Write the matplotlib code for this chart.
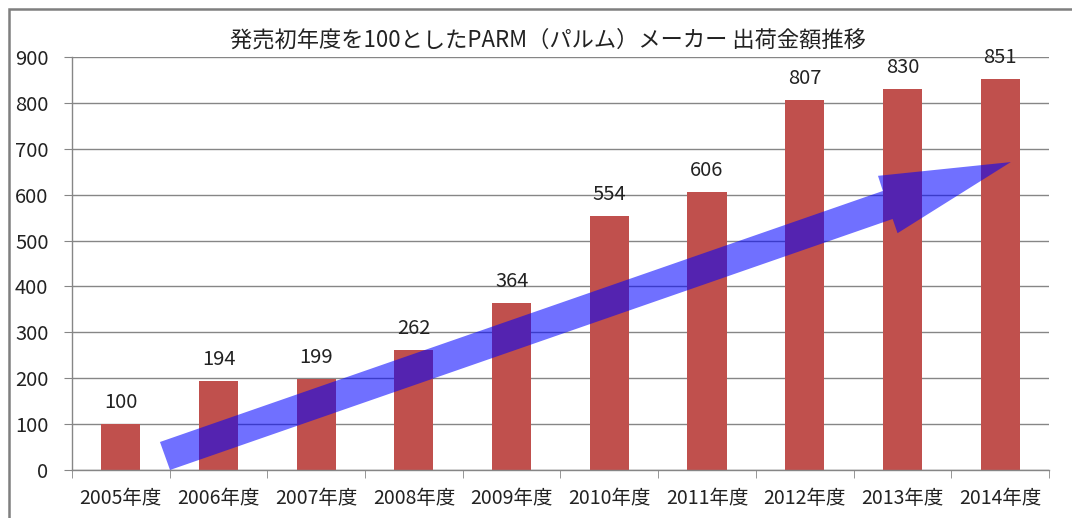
import matplotlib
matplotlib.use("Agg")
import matplotlib.pyplot as plt
from matplotlib.patches import Polygon, Rectangle

plt.rcParams['font.family'] = ['Noto Sans CJK JP', 'DejaVu Sans']

years = ["2005年度", "2006年度", "2007年度", "2008年度", "2009年度",
         "2010年度", "2011年度", "2012年度", "2013年度", "2014年度"]
values = [100, 194, 199, 262, 364, 554, 606, 807, 830, 851]
yticks = [0, 100, 200, 300, 400, 500, 600, 700, 800, 900]
title = "発売初年度を100としたPARM（パルム）メーカー 出荷金額推移"

fig = plt.figure(figsize=(10.72, 5.18), dpi=100)
ax = fig.add_axes([0.0672, 0.0927, 0.9113, 0.7973])

x = list(range(len(years)))
ax.bar(x, values, width=0.4, color='#C0504D', zorder=2)
for xi, v in zip(x, values):
    ax.annotate(str(v), (xi, v), xytext=(0, 8), textcoords='offset points',
                ha='center', va='bottom', fontsize=14.5, color='#222222')

ax.set_xlim(-0.5, len(years) - 0.5)
ax.set_ylim(0, 900)
ax.set_yticks(yticks)
ax.set_yticklabels([str(t) for t in yticks], fontsize=14.5)
ax.set_xticks(x)
ax.set_xticklabels(years, fontsize=14)
ax.set_xticks([i - 0.5 for i in range(len(years) + 1)], minor=True)
ax.tick_params(axis='x', which='major', length=0, pad=13, colors='#222222')
ax.tick_params(axis='x', which='minor', length=6, color='#868686')
ax.tick_params(axis='y', length=6, color='#868686', pad=11, labelcolor='#222222')
ax.yaxis.grid(True, color='#868686', linewidth=1.0, zorder=0)
ax.set_axisbelow(True)
for s in ['top', 'right']:
    ax.spines[s].set_visible(False)
for s in ['left', 'bottom']:
    ax.spines[s].set_color('#868686')
    ax.spines[s].set_linewidth(1.0)

# Trend arrow overlay
arrow_pts = [(0.40, 61), (7.80, 608), (7.75, 641), (9.11, 671),
             (7.95, 516), (7.90, 547), (0.503, 0)]
ax.add_patch(Polygon(arrow_pts, closed=True, facecolor='#0000FF', alpha=0.56,
                     edgecolor='none', zorder=3, clip_on=False))

fig.text(0.511, 0.922, title, ha='center', va='center', fontsize=16, color='#222222')

# outer chart border
fig.patches.append(Rectangle((9 / 1072, -0.1), 1.2, 1.1 - 9 / 518,
                             transform=fig.transFigure, fill=False,
                             edgecolor='#7f7f7f', linewidth=1.8))

fig.savefig('out.png', dpi=100)
